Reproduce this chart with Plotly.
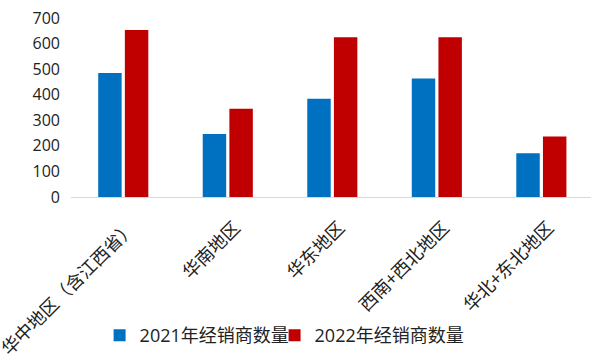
import plotly.graph_objects as go

categories = ["华中地区（含江西省）", "华南地区", "华东地区", "西南+西北地区", "华北+东北地区"]
values_2021 = [485, 246, 384, 463, 171]
values_2022 = [653, 345, 625, 625, 237]
series_names = ["2021年经销商数量", "2022年经销商数量"]
y_ticks = [0, 100, 200, 300, 400, 500, 600, 700]

font_family = "Open Sans, Noto Sans CJK SC, sans-serif"

fig = go.Figure()
fig.add_trace(go.Bar(x=categories, y=values_2021, name=series_names[0], legend="legend",
                     marker=dict(color="#0070C0", line=dict(width=0))))
fig.add_trace(go.Bar(x=categories, y=values_2022, name=series_names[1], legend="legend2",
                     marker=dict(color="#C00000", line=dict(width=0))))

legend_common = dict(orientation="h", y=-0.772, yanchor="middle", xanchor="left",
                     font=dict(size=18, family=font_family, color="#222222"), itemwidth=30,
                     bgcolor="rgba(0,0,0,0)")

fig.update_layout(
    width=591, height=354,
    margin=dict(l=71, r=0, t=18, b=156),
    paper_bgcolor="white", plot_bgcolor="white",
    barmode="group", bargap=0.49, bargroupgap=0.12,
    font=dict(family=font_family, size=16, color="#222222"),
    showlegend=True,
    legend=dict(x=0.055, **legend_common),
    legend2=dict(x=0.3915, **legend_common),
)
fig.update_xaxes(
    range=[-0.5, 4.475], tickangle=-45, showline=True, linecolor="#d9d9d9", linewidth=1,
    ticks="", showgrid=False, automargin=False,
    tickfont=dict(size=18, family="Noto Sans CJK SC, sans-serif", color="#222222"),
    ticklabelstandoff=12, ticklabelshift=7,
)
fig.update_yaxes(
    range=[0, 700], tickvals=y_ticks, ticktext=[str(v) for v in y_ticks],
    showgrid=False, showline=False, zeroline=False, ticks="", automargin=False,
    tickfont=dict(size=16, family=font_family, color="#222222"), ticklabelstandoff=10,
)

fig.write_html("out.html")
